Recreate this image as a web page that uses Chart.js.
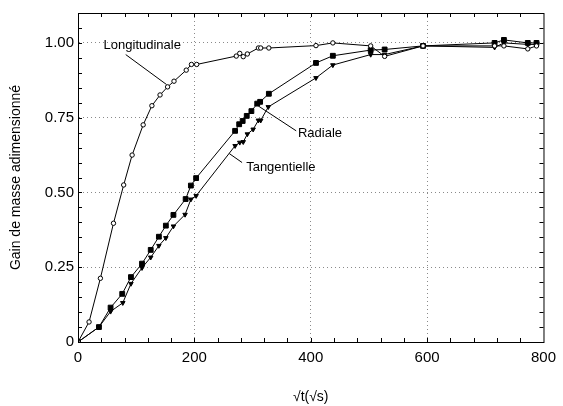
<!DOCTYPE html>
<html>
<head>
<meta charset="utf-8">
<script src="https://cdn.jsdelivr.net/npm/chart.js@4.4.1/dist/chart.umd.min.js"></script>
<style>
  html, body { margin: 0; padding: 0; background: #fff; }
  #wrap { width: 563px; height: 406px; }
</style>
</head>
<body>
<div id="wrap"><canvas id="myChart"></canvas></div>
<script>
// values
var longX = [0, 19, 38.5, 61, 78.5, 93, 112, 127, 141, 154, 165, 186, 195, 204, 272, 278, 284, 291, 310, 314, 328, 409, 438, 503, 527, 593, 716, 732, 773, 788];
var longY = [0, 0.067, 0.213, 0.397, 0.525, 0.625, 0.726, 0.79, 0.826, 0.853, 0.872, 0.909, 0.928, 0.928, 0.956, 0.965, 0.954, 0.963, 0.983, 0.983, 0.983, 0.991, 1.0, 0.99, 0.955, 0.99, 0.99, 0.99, 0.98, 0.99];

var radX = [0, 36, 56, 76, 91, 110, 125, 139, 151, 164, 185, 194, 203, 270, 277, 283, 290, 298, 308, 313, 328, 409, 438, 503, 527, 593, 716, 732, 773, 788];
var radY = [0, 0.05, 0.115, 0.161, 0.217, 0.262, 0.308, 0.352, 0.389, 0.425, 0.478, 0.523, 0.548, 0.706, 0.728, 0.739, 0.756, 0.772, 0.797, 0.803, 0.83, 0.933, 0.957, 0.976, 0.978, 0.99, 1.0, 1.01, 1.0, 1.0];

var tanX = [0, 36, 56, 77, 91, 110, 125, 139, 151, 164, 184, 194, 203, 270, 278, 284, 291, 301, 310, 314, 327, 409, 438, 503, 527, 593, 716, 732, 773, 788];
var tanY = [0, 0.05, 0.102, 0.131, 0.195, 0.248, 0.283, 0.322, 0.348, 0.387, 0.426, 0.477, 0.489, 0.656, 0.667, 0.669, 0.695, 0.711, 0.741, 0.741, 0.786, 0.883, 0.926, 0.961, 0.961, 0.99, 0.985, 1.0, 0.995, 0.995];

var xTicks = [0, 200, 400, 600, 800];
var yTicks = [0, 0.25, 0.5, 0.75, 1.0];

// curve labels: text position and leader line, in data units
var labels = [
  { text: "Longitudinale", x: 44, y: 0.99, line: [82, 0.961, 152, 0.861] },
  { text: "Radiale", x: 378, y: 0.697, line: [375, 0.706, 310, 0.789] },
  { text: "Tangentielle", x: 289, y: 0.583, line: [282, 0.6, 260, 0.63] }
];

function toPoints(xs, ys) {
  var pts = [];
  for (var i = 0; i < xs.length; i++) pts.push({ x: xs[i], y: ys[i] });
  return pts;
}

var FONT = "'Liberation Sans', Arial, sans-serif";

// box, inner minor ticks and curve labels
var framePlugin = {
  id: "frame",
  afterDatasetsDraw: function (chart) {
    var ctx = chart.ctx, a = chart.chartArea;
    var xs = chart.scales.x, ys = chart.scales.y;
    ctx.save();
    ctx.strokeStyle = "#000";
    ctx.lineWidth = 1;
    ctx.strokeRect(a.left + 0.5, a.top + 0.5, a.right - a.left, a.bottom - a.top);
    ctx.beginPath();
    for (var v = 40; v < 800; v += 40) {
      var px = Math.round(xs.getPixelForValue(v)) + 0.5;
      ctx.moveTo(px, a.bottom); ctx.lineTo(px, a.bottom - 4);
      ctx.moveTo(px, a.top); ctx.lineTo(px, a.top + 4);
    }
    for (var k = 1; k <= 21; k++) {
      var py = Math.round(ys.getPixelForValue(k * 0.05)) + 0.5;
      ctx.moveTo(a.left, py); ctx.lineTo(a.left + 4, py);
      ctx.moveTo(a.right, py); ctx.lineTo(a.right - 4, py);
    }
    ctx.stroke();

    ctx.font = "13px " + FONT;
    ctx.fillStyle = "#000";
    ctx.textBaseline = "middle";
    labels.forEach(function (l) {
      ctx.beginPath();
      ctx.moveTo(xs.getPixelForValue(l.line[0]), ys.getPixelForValue(l.line[1]));
      ctx.lineTo(xs.getPixelForValue(l.line[2]), ys.getPixelForValue(l.line[3]));
      ctx.stroke();
      ctx.fillText(l.text, xs.getPixelForValue(l.x), ys.getPixelForValue(l.y));
    });
    ctx.restore();
  }
};

function series(label, xs, ys, style, radius, rotation, fill) {
  return {
    label: label,
    data: toPoints(xs, ys),
    showLine: true,
    borderColor: "#000",
    borderWidth: 1,
    backgroundColor: fill,
    pointStyle: style,
    pointRadius: radius,
    pointRotation: rotation,
    pointBorderColor: "#000",
    pointBorderWidth: 1,
    pointBackgroundColor: fill,
    tension: 0
  };
}

var myChart = document.getElementById("myChart").getContext("2d");
var chart = new Chart(myChart, {
  type: "scatter",
  data: {
    datasets: [
      series("Longitudinale", longX, longY, "circle", 2.2, 0, "#fff"),
      series("Radiale", radX, radY, "rect", 3.4, 0, "#000"),
      series("Tangentielle", tanX, tanY, "triangle", 2.6, 180, "#000")
    ]
  },
  options: {
    responsive: true,
    maintainAspectRatio: false,
    animation: false,
    layout: { padding: { top: 12, right: 16, left: 0, bottom: 0 } },
    plugins: { legend: { display: false }, tooltip: { enabled: false } },
    scales: {
      x: {
        type: "linear",
        min: 0,
        max: 800,
        afterFit: function (s) { s.height = 64; },
        afterBuildTicks: function (s) { s.ticks = xTicks.map(function (v) { return { value: v }; }); },
        ticks: { padding: 7, color: "#000", font: { size: 15, family: FONT }, maxRotation: 0 },
        grid: {
          drawTicks: false,
          color: function (c) { return (c.tick && (c.tick.value === 0 || c.tick.value === 800)) ? "rgba(0,0,0,0)" : "#8a8a8a"; },
          lineWidth: 1
        },
        border: { display: true, color: "#000", dash: [1, 3] },
        title: { display: true, text: "√t(√s)", color: "#000", font: { size: 14, family: FONT }, padding: { top: 19, bottom: 0 } }
      },
      y: {
        type: "linear",
        min: 0,
        max: 1.1,
        afterFit: function (s) { s.width = 78; },
        afterBuildTicks: function (s) { s.ticks = yTicks.map(function (v) { return { value: v }; }); },
        ticks: {
          padding: 4,
          color: "#000",
          font: { size: 15, family: FONT },
          callback: function (v) { return v === 0 ? "0" : v.toFixed(2); }
        },
        grid: {
          drawTicks: false,
          color: function (c) { return (c.tick && c.tick.value === 0) ? "rgba(0,0,0,0)" : "#8a8a8a"; },
          lineWidth: 1
        },
        border: { display: true, color: "#000", dash: [1, 3] },
        title: { display: true, text: "Gain de masse adimensionné", color: "#000", font: { size: 14, family: FONT }, padding: { top: 8, bottom: 0 } }
      }
    }
  },
  plugins: [framePlugin]
});
</script>
</body>
</html>
